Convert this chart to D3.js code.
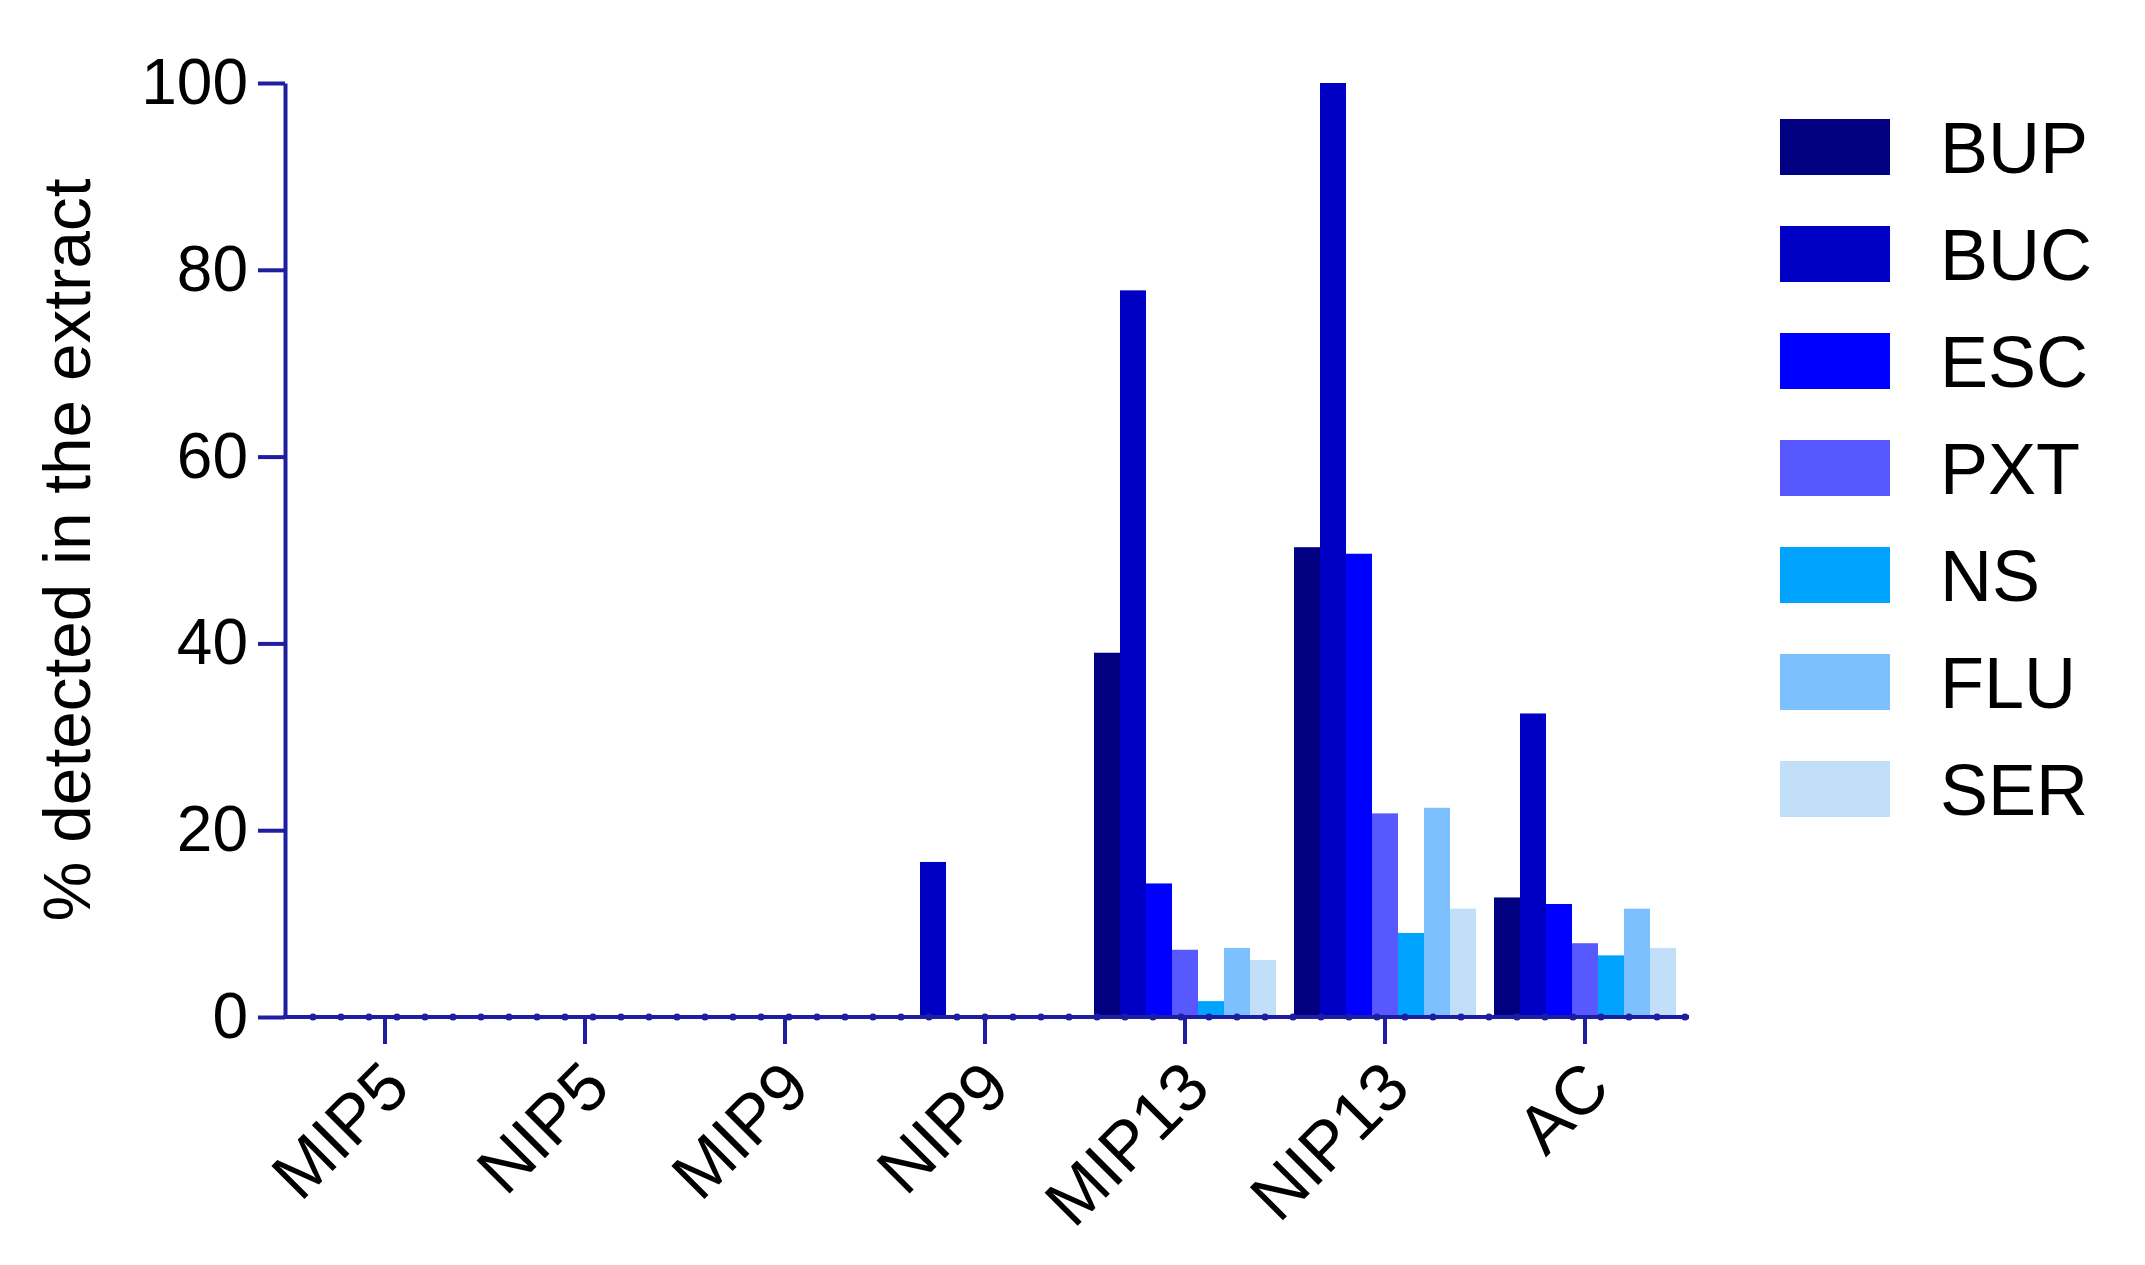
<!DOCTYPE html>
<html>
<head>
<meta charset="utf-8">
<script src="https://cdn.jsdelivr.net/npm/d3@7"></script>
<style>
  html, body { margin: 0; padding: 0; background: #ffffff; }
  svg { display: block; }
  text { font-family: "Liberation Sans", Arial, sans-serif; fill: #000; }
</style>
</head>
<body>
<svg id="chart" width="2145" height="1265"></svg>
<script>
// ---- data ----
const categories = ["MIP5", "NIP5", "MIP9", "NIP9", "MIP13", "NIP13", "AC"];
const seriesNames = ["BUP", "BUC", "ESC", "PXT", "NS", "FLU", "SER"];
const seriesColors = ["#000080", "#0000c4", "#0000ff", "#5858ff", "#00a4ff", "#7dc0ff", "#c2dffa"];
const BUP = [0, 0, 0, 0, 39.0, 50.3, 12.8];
const BUC = [0, 0, 0, 16.6, 77.8, 100, 32.5];
const ESC = [0, 0, 0, 0, 14.3, 49.6, 12.1];
const PXT = [0, 0, 0, 0, 7.2, 21.8, 7.9];
const NS  = [0, 0, 0, 0, 1.7, 9.0, 6.6];
const FLU = [0, 0, 0, 0, 7.4, 22.4, 11.6];
const SER = [0, 0, 0, 0, 6.1, 11.6, 7.4];
const yTicks = [0, 20, 40, 60, 80, 100];
const yTitle = "% detected in the extract";

const seriesValues = [BUP, BUC, ESC, PXT, NS, FLU, SER];
const rows = [];
categories.forEach((c, ci) => {
  seriesNames.forEach((s, si) => {
    rows.push({ cat: c, series: s, value: seriesValues[si][ci], color: seriesColors[si] });
  });
});

// ---- layout ----
const axisColor = "#1e1ea0";
const svg = d3.select("#chart");

const x = d3.scaleBand().domain(categories).range([285, 1685]).paddingInner(0).paddingOuter(0);
const xs = d3.scaleBand().domain(seriesNames).range([0, x.bandwidth()]).paddingInner(0).paddingOuter(0.346);
const y = d3.scaleLinear().domain([0, 100]).range([1017, 83]);
const minor = d3.scaleLinear().domain([0, 50]).range(x.range());

// bars
svg.append("g").selectAll("rect")
  .data(rows.filter(d => d.value > 0))
  .join("rect")
  .attr("x", d => x(d.cat) + xs(d.series))
  .attr("width", xs.bandwidth())
  .attr("y", d => y(d.value))
  .attr("height", d => y(0) - y(d.value))
  .attr("fill", d => d.color);

// y axis
const yAxis = d3.axisLeft(y).tickValues(yTicks).tickSize(27).tickPadding(10).tickSizeOuter(0);
const gy = svg.append("g").attr("transform", `translate(${x.range()[0]},0)`).call(yAxis);
gy.select(".domain").attr("stroke", axisColor).attr("stroke-width", 4);
gy.selectAll(".tick line").attr("stroke", axisColor).attr("stroke-width", 4);
gy.selectAll(".tick text").attr("font-size", 64).attr("font-family", "Liberation Sans, Arial, sans-serif").attr("fill", "#000");

// x axis
const xAxis = d3.axisBottom(x).tickSize(27).tickSizeOuter(0).tickFormat("");
const gx = svg.append("g").attr("transform", `translate(0,${y(0)})`).call(xAxis);
gx.select(".domain").attr("stroke", axisColor).attr("stroke-width", 4)
  .attr("d", `M${x.range()[0] - 2},0H${x.range()[1] + 4}`);
gx.selectAll(".tick line").attr("stroke", axisColor).attr("stroke-width", 4);

// minor dots on x axis
svg.append("g").selectAll("circle")
  .data(d3.range(1, 51))
  .join("circle")
  .attr("cx", k => minor(k))
  .attr("cy", y(0))
  .attr("r", 3.6)
  .attr("fill", axisColor);

// x labels rotated
svg.append("g").selectAll("text")
  .data(categories)
  .join("text")
  .attr("transform", d => `translate(${x(d) + x.bandwidth() / 2 - 6},${y(0) + 40}) rotate(-45)`)
  .attr("text-anchor", "end")
  .attr("dy", "0.7em")
  .attr("font-size", 68)
  .text(d => d);

// y title
svg.append("text")
  .attr("transform", `translate(66,${(y(0) + y(100)) / 2}) rotate(-90)`)
  .attr("text-anchor", "middle")
  .attr("dy", "0.35em")
  .attr("font-size", 67.5)
  .text(yTitle);

// legend
const legendRow = d3.scalePoint().domain(seriesNames).range([147, 789]);
const lg = svg.append("g").selectAll("g")
  .data(seriesNames.map((s, i) => ({ s, c: seriesColors[i] })))
  .join("g")
  .attr("transform", d => `translate(1780,${legendRow(d.s)})`);
lg.append("rect").attr("x", 0).attr("y", -28).attr("width", 110).attr("height", 56).attr("fill", d => d.c);
lg.append("text").attr("x", 160).attr("dy", "0.36em").attr("font-size", 72).text(d => d.s);
</script>
</body>
</html>
